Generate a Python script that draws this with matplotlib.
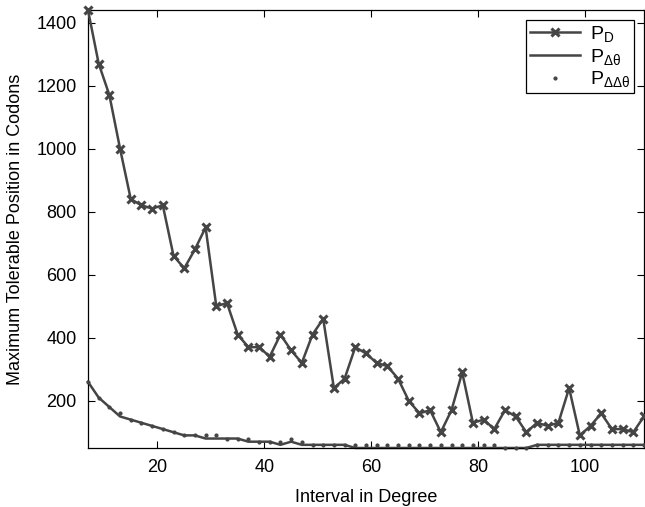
import matplotlib; matplotlib.use("Agg")
import matplotlib.pyplot as plt

plt.rcParams["font.family"] = ["Liberation Sans", "DejaVu Sans"]
plt.rcParams["mathtext.fontset"] = "custom"
plt.rcParams["mathtext.rm"] = "Liberation Sans"
plt.rcParams["mathtext.it"] = "Liberation Sans:italic"

# interval in degree (every 2 degrees)
interval = [7, 9, 11, 13, 15, 17, 19, 21, 23, 25, 27, 29, 31, 33, 35, 37, 39, 41,
            43, 45, 47, 49, 51, 53, 55, 57, 59, 61, 63, 65, 67, 69, 71, 73, 75, 77,
            79, 81, 83, 85, 87, 89, 91, 93, 95, 97, 99, 101, 103, 105, 107, 109, 111]

p_d = [1440, 1270, 1170, 1000, 840, 820, 810, 820, 660, 620, 680, 750, 500, 510,
       410, 370, 370, 340, 410, 360, 320, 410, 460, 240, 270, 370, 350, 320, 310,
       270, 200, 160, 170, 100, 170, 290, 130, 140, 110, 170, 150, 100, 130, 120,
       130, 240, 90, 120, 160, 110, 110, 100, 150]

p_dtheta = [260, 210, 180, 150, 140, 130, 120, 110, 100, 90, 90, 80, 80, 80, 80,
            70, 70, 70, 60, 70, 60, 60, 60, 60, 60, 50, 50, 50, 50, 50, 50, 50,
            50, 50, 50, 50, 50, 50, 50, 50, 50, 50, 60, 60, 60, 60, 60, 60, 60,
            60, 60, 60, 60]

p_ddtheta = [260, 210, 180, 160, 140, 130, 120, 110, 100, 90, 90, 90, 90, 80, 80,
             80, 70, 70, 70, 80, 70, 60, 60, 60, 60, 60, 60, 60, 60, 60, 60, 60,
             60, 60, 60, 60, 60, 60, 60, 50, 50, 50, 60, 60, 60, 60, 60, 60, 60,
             60, 60, 60, 60]

col = "#454545"
fig = plt.figure(figsize=(6.45, 5.07), dpi=100)
ax = fig.add_axes([0.1364, 0.1164, 0.8620, 0.8639])

ax.plot(interval, p_d, color=col, lw=1.8, marker="x", ms=6, mew=2.2,
        label=r"P$_\mathrm{D}$", clip_on=False, zorder=3)
ax.plot(interval, p_dtheta, color=col, lw=1.8, label=r"P$_{\mathrm{\Delta\theta}}$",
        clip_on=False, zorder=2)
ax.plot(interval, p_ddtheta, color=col, ls="none", marker=".", ms=4,
        label=r"P$_{\mathrm{\Delta\Delta\theta}}$", clip_on=False, zorder=4)

ax.set_xlim(7, 111)
ax.set_ylim(50, 1440)
ax.set_xticks([20, 40, 60, 80, 100])
ax.set_yticks([200, 400, 600, 800, 1000, 1200, 1400])
ax.tick_params(direction="in", top=True, right=True, length=5, width=0.8,
               labelsize=13, colors="black", pad=8)
for s in ax.spines.values():
    s.set_linewidth(0.9)
ax.set_xlabel("Interval in Degree", fontsize=13, labelpad=9)
ax.set_ylabel("Maximum Tolerable Position in Codons", fontsize=13, labelpad=9)

leg = ax.legend(loc="upper right", numpoints=1, fontsize=14, fancybox=False,
                framealpha=1, edgecolor="black", borderaxespad=0.5,
                handlelength=2.6, handletextpad=0.5, labelspacing=0.15,
                borderpad=0.2)
leg.get_frame().set_linewidth(0.9)

fig.savefig("out.png", dpi=100)
